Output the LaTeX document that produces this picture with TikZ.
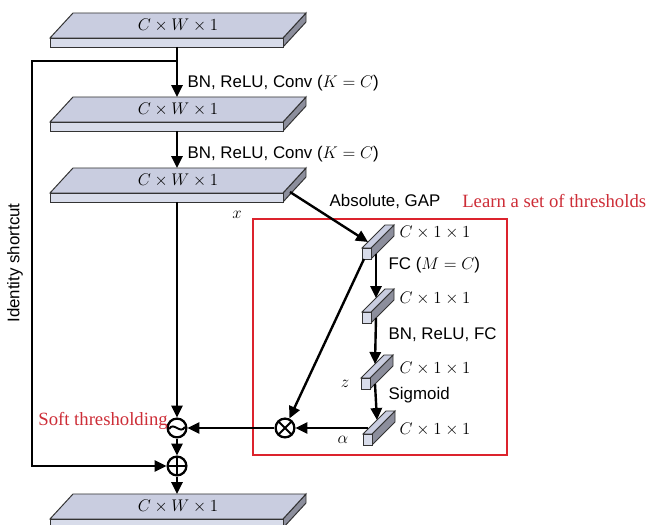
\documentclass[tikz,border=0pt]{standalone}
\usepackage{fontspec}
\setmainfont{Liberation Serif}
\setsansfont{Liberation Sans}
\usetikzlibrary{arrows.meta}

\definecolor{slabtop}{RGB}{201,205,224}
\definecolor{slabfront}{RGB}{216,220,234}
\definecolor{slabside}{RGB}{140,142,156}
\definecolor{boxred}{RGB}{220,35,45}
\definecolor{textred}{RGB}{205,45,55}

% wide feature map: name, y of front edge of top face, label
\newcommand{\slab}[3]{%
  \filldraw[facedraw, fill=slabside] (283,#2) -- (306,#2-25) -- (306,#2-16) -- (283,#2+9) -- cycle;
  \filldraw[facedraw, fill=slabfront] (50,#2) rectangle (283,#2+9);
  \filldraw[facedraw, fill=slabtop] (50,#2) -- (73,#2-25) -- (306,#2-25) -- (283,#2) -- cycle;
  \node[dimlabel] (#1) at (178,#2-12.5) {#3};
  \coordinate (#1-top) at (177,#2-25);
  \coordinate (#1-bot) at (177,#2+9);
  \coordinate (#1-side) at (290,#2-1);
}
% thin C x 1 x 1 vector: name, x and y of lower left corner of front face
\newcommand{\featvec}[3]{%
  \filldraw[facedraw, fill=slabside] (#2+9,#3) -- (#2+9,#3-11) -- (#2+32,#3-34) -- (#2+32,#3-23) -- cycle;
  \filldraw[facedraw, fill=slabtop] (#2,#3-11) -- (#2+9,#3-11) -- (#2+32,#3-34) -- (#2+23,#3-34) -- cycle;
  \filldraw[facedraw, fill=slabfront] (#2,#3) rectangle (#2+9,#3-11);
  \coordinate (#1-top) at (#2+14,#3-25);
  \coordinate (#1-bot) at (#2+14,#3-5);
  \coordinate (#1-in) at (#2+6,#3-17);
  \coordinate (#1-out) at (#2+5,#3-17);
  \coordinate (#1-foot) at (#2+2,#3);
}

\begin{document}
\begin{tikzpicture}[x=0.025cm, y=-0.025cm,
    facedraw/.style={draw=black!80, line width=0.7pt},
    dimlabel/.style={font=\large, inner sep=1pt},
    steplabel/.style={anchor=west, font=\large\sffamily, inner sep=1pt},
    redlabel/.style={font=\fontsize{13.3}{15}\selectfont, text=textred, inner sep=0pt},
    arrow/.style={-{Triangle[length=8.5pt, width=8pt]}, line width=1.7pt},
    opcircle/.style={circle, draw, line width=1.6pt, minimum size=0.47cm, inner sep=0pt},
    addsign/.style={path picture={\draw[line width=1.4pt] (path picture bounding box.north) -- (path picture bounding box.south) (path picture bounding box.west) -- (path picture bounding box.east);}},
    multsign/.style={path picture={\draw[line width=1.4pt] (path picture bounding box.north west) -- (path picture bounding box.south east) (path picture bounding box.north east) -- (path picture bounding box.south west);}},
    softsign/.style={path picture={\draw[line width=1.4pt, shift={(path picture bounding box.center)}] (-8,1) .. controls (-3,-7) and (3,7) .. (8,-1);}}
]
\useasboundingbox (0,0) rectangle (654,525);
\clip (0,0) rectangle (654,525);
% Feature maps
\slab{in}{38}{$C\times W\times 1$}
\slab{conv1}{122}{$C\times W\times 1$}
\slab{conv2}{193}{$C\times W\times 1$}
\slab{out}{519}{$C\times W\times 1$}
% Threshold branch
\draw[boxred, line width=1.9pt] (253,219) rectangle (507,455);
\featvec{gap}{362}{259}
\featvec{fc1}{362}{323}
\featvec{fc2}{361}{389}
\featvec{alpha}{363}{445}
% Operators
\node[opcircle, softsign] (soft) at (177,428) {};
\node[opcircle, multsign] (mult) at (285,428) {};
\node[opcircle, addsign] (add) at (177,466) {};
\coordinate (split) at (177,61);
\coordinate (corner) at (32,61);
% Labels
\node[steplabel] (bn1) at (186,83) {BN, ReLU, Conv ($K=C$)};
\node[steplabel] (bn2) at (186,154) {BN, ReLU, Conv ($K=C$)};
\node[steplabel] (absgap) at (328,201) {Absolute, GAP};
\node[steplabel] (fclab) at (387,265) {FC ($M=C$)};
\node[steplabel] (bnfc) at (387,335) {BN, ReLU, FC};
\node[steplabel] (sig) at (387,395) {Sigmoid};
\node[dimlabel, anchor=west] (d1) at (398,232) {$C\times 1\times 1$};
\node[dimlabel, anchor=west] (d2) at (398,298) {$C\times 1\times 1$};
\node[dimlabel, anchor=west] (d3) at (398,368) {$C\times 1\times 1$};
\node[dimlabel, anchor=west] (d4) at (398,429) {$C\times 1\times 1$};
\node[dimlabel] (xlab) at (237,215) {$x$};
\node[dimlabel] (zlab) at (345,384) {$z$};
\node[dimlabel] (alab) at (343,440) {$\alpha$};
\node[font=\large\sffamily, rotate=90] (idlab) at (15,263) {Identity shortcut};
\node[redlabel, anchor=west] (learn) at (462,201) {Learn a set of thresholds};
\node[redlabel, anchor=east] (softlab) at (168,421) {Soft thresholding};
% Arrows
\draw[arrow] (in-bot) -- (conv1-top);
\draw[arrow] (conv1-bot) -- (conv2-top);
\draw[arrow] (conv2-bot) -- (soft);
\draw[arrow] (soft) -- (add);
\draw[arrow] (add) -- (out-top);
\draw[arrow] (split) -- (corner) |- (add);
\draw[arrow] (conv2-side) -- (gap-in);
\draw[arrow] (gap-bot) -- (fc1-top);
\draw[arrow] (fc1-bot) -- (fc2-top);
\draw[arrow] (fc2-bot) -- (alpha-top);
\draw[arrow] (gap-foot) -- (mult);
\draw[arrow] (alpha-out) -- (mult);
\draw[arrow] (mult) -- (soft);
\end{tikzpicture}
\end{document}
